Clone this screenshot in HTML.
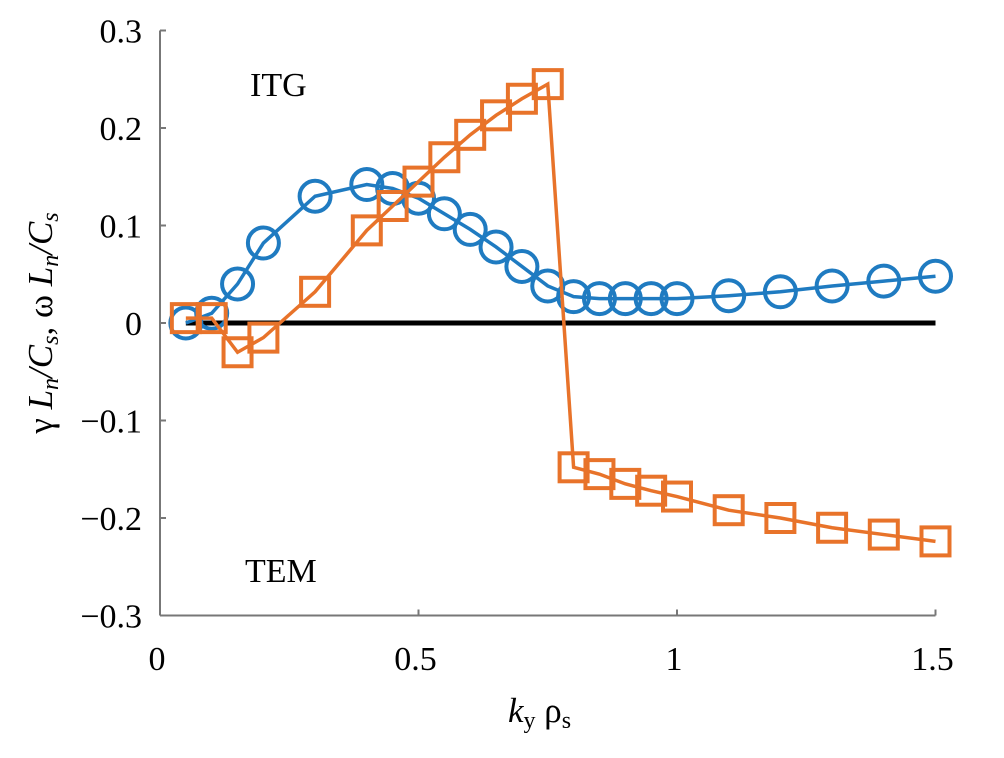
<!DOCTYPE html>
<html><head><meta charset="utf-8"><style>
body{margin:0;background:#fff}
svg text{font-family:"Liberation Serif",serif;fill:#000}
</style></head><body>
<svg id="chart" width="1004" height="753" viewBox="0 0 1004 753" xmlns="http://www.w3.org/2000/svg">
<g id="axes"></g>
<g id="marks"></g>
<text x="250" y="96" font-size="34">ITG</text>
<text x="245" y="582" font-size="34">TEM</text>
<text x="508" y="722" font-size="35"><tspan font-style="italic">k</tspan><tspan font-size="24" dy="6">y</tspan><tspan dy="-6"> ρ</tspan><tspan font-size="24" dy="6">s</tspan></text>
<text transform="translate(52,323) rotate(-90)" text-anchor="middle" font-size="35">γ <tspan font-style="italic">L</tspan><tspan font-style="italic" font-size="24" dy="6">n</tspan><tspan dy="-6" font-style="italic">/C</tspan><tspan font-style="italic" font-size="24" dy="6">s</tspan><tspan dy="-6">, ω </tspan><tspan font-style="italic">L</tspan><tspan font-style="italic" font-size="24" dy="6">n</tspan><tspan dy="-6" font-style="italic">/C</tspan><tspan font-style="italic" font-size="24" dy="6">s</tspan></text>
</svg>
<script>
const kx = [0.05,0.1,0.15,0.2,0.3,0.4,0.45,0.5,0.55,0.6,0.65,0.7,0.75,0.8,0.85,0.9,0.95,1.0,1.1,1.2,1.3,1.4,1.5];
const blueVals = [0.0,0.01,0.04,0.082,0.13,0.142,0.138,0.128,0.112,0.096,0.078,0.058,0.038,0.027,0.025,0.025,0.025,0.025,0.028,0.032,0.038,0.043,0.048];
const orangeVals = [0.005,0.005,-0.03,-0.015,0.032,0.095,0.12,0.145,0.17,0.193,0.213,0.23,0.245,-0.148,-0.155,-0.165,-0.172,-0.178,-0.192,-0.2,-0.21,-0.217,-0.224];
const xTicks = [0,0.5,1,1.5];
const xTickLabels = ["0","0.5","1","1.5"];
const yTicks = [0.3,0.2,0.1,0,-0.1,-0.2,-0.3];
const yTickLabels = ["0.3","0.2","0.1","0","\u22120.1","\u22120.2","\u22120.3"];
const NS="http://www.w3.org/2000/svg";
const X=v=>160+v*517;
const Y=v=>323-v*975;
function mk(t,a,p){const e=document.createElementNS(NS,t);for(const k in a)e.setAttribute(k,a[k]);p.appendChild(e);return e;}
const ax=document.getElementById('axes'), mg=document.getElementById('marks');
let e=mk('line',{x1:X(0),y1:Y(0.3),x2:X(0),y2:Y(-0.3),stroke:'#777','stroke-width':2},ax);

e=mk('line',{x1:X(0),y1:Y(-0.3),x2:X(1.5),y2:Y(-0.3),stroke:'#777','stroke-width':2},ax);

yTicks.forEach((v,i)=>{
 e=mk('line',{x1:X(0),y1:Y(v),x2:X(0)+6,y2:Y(v),stroke:'#777','stroke-width':2},ax);
 
 e=mk('text',{x:142,y:Y(v)+12,'text-anchor':'end','font-size':34},ax);e.textContent=yTickLabels[i];
 
});
xTicks.forEach((v,i)=>{
 e=mk('line',{x1:X(v),y1:Y(-0.3),x2:X(v),y2:Y(-0.3)-6,stroke:'#777','stroke-width':2},ax);
 
 e=mk('text',{x:X(v)-3,y:670,'text-anchor':'middle','font-size':34},ax);e.textContent=xTickLabels[i];
 
});
e=mk('line',{x1:X(0.05),y1:Y(0),x2:X(1.5),y2:Y(0),stroke:'#000','stroke-width':5},mg);

const blue='#1f7bc1', orange='#e8732a';
e=mk('polyline',{points:kx.map((k,i)=>X(k)+','+Y(blueVals[i])).join(' '),fill:'none',stroke:blue,'stroke-width':3.5},mg);

kx.forEach((k,i)=>{
 e=mk('circle',{cx:X(k),cy:Y(blueVals[i]),r:15.5,fill:'none',stroke:blue,'stroke-width':4},mg);
 
});
e=mk('polyline',{points:kx.map((k,i)=>X(k)+','+Y(orangeVals[i])).join(' '),fill:'none',stroke:orange,'stroke-width':3.5},mg);

kx.forEach((k,i)=>{
 e=mk('rect',{x:X(k)-14,y:Y(orangeVals[i])-14,width:28,height:28,fill:'none',stroke:orange,'stroke-width':4},mg);
 
});
</script>
</body></html>
